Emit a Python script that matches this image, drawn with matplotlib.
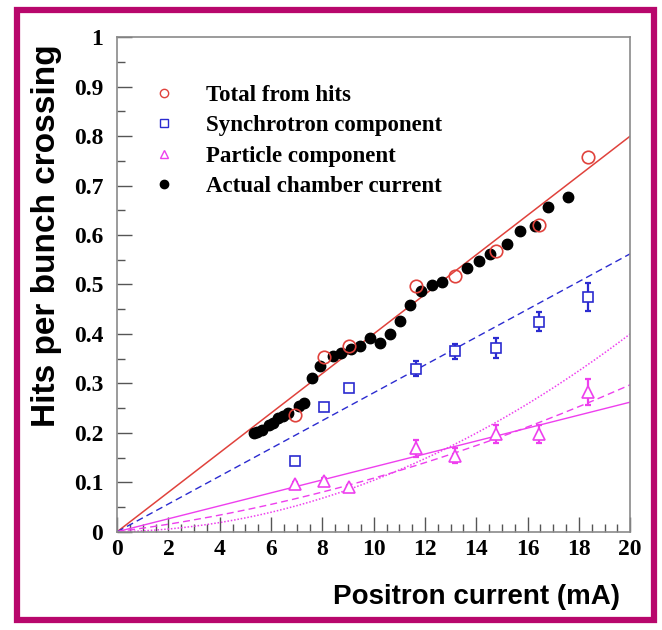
import numpy as np
import matplotlib
matplotlib.use("Agg")
import matplotlib.pyplot as plt
from matplotlib.lines import Line2D
from matplotlib.patches import Rectangle
from matplotlib.ticker import MultipleLocator

# measured points (positron current in mA)
x_meas = [6.92, 8.05, 9.02, 11.65, 13.15, 14.75, 16.43, 18.37]
total_hits = [0.237, 0.353, 0.376, 0.497, 0.518, 0.567, 0.621, 0.757]
synchrotron = [0.142, 0.252, 0.290, 0.330, 0.365, 0.371, 0.425, 0.474]
synchrotron_err = [0.006, 0.006, 0.006, 0.016, 0.015, 0.020, 0.020, 0.028]
particle = [0.097, 0.102, 0.090, 0.169, 0.154, 0.198, 0.198, 0.282]
particle_err = [0.004, 0.006, 0.004, 0.017, 0.015, 0.018, 0.018, 0.026]

# actual chamber current
x_chamber = [5.32, 5.47, 5.64, 5.90, 6.07, 6.26, 6.46, 6.64, 7.10, 7.29, 7.59, 7.91,
             8.43, 8.72, 9.11, 9.45, 9.84, 10.25, 10.64, 11.03, 11.42, 11.84, 12.27,
             12.66, 13.63, 14.09, 14.55, 15.19, 15.69, 16.30, 16.78, 17.56]
chamber = [0.200, 0.201, 0.205, 0.215, 0.220, 0.229, 0.235, 0.241, 0.255, 0.261, 0.310, 0.335,
           0.356, 0.362, 0.370, 0.376, 0.392, 0.382, 0.400, 0.427, 0.458, 0.487, 0.498,
           0.504, 0.533, 0.547, 0.562, 0.582, 0.609, 0.618, 0.656, 0.676]

# fit coefficients y = a1*x + a2*x^2
fit_total = (0.0400, 0.0)
fit_sync = (0.0281, 0.0)
fit_part_lin = (0.0131, 0.0)
fit_part_dash = (0.0068, 0.000403)
fit_part_dot = (0.0008, 0.00096)

red = "#e0423c"
blue = "#2b2bd0"
mag = "#ee3fee"
serif = "Liberation Serif"
sans = "Liberation Sans"

fig = plt.figure(figsize=(6.62, 6.30), dpi=100)
ax = fig.add_axes([0.177, 0.156, 0.775, 0.785])

xf = np.linspace(0, 20, 200)
def fitline(c):
    return c[0] * xf + c[1] * xf ** 2

ax.plot(xf, fitline(fit_total), color=red, lw=1.1)
ax.plot(xf, fitline(fit_sync), color=blue, lw=1.0, ls=(0, (5, 3)))
ax.plot(xf, fitline(fit_part_lin), color=mag, lw=1.0)
ax.plot(xf, fitline(fit_part_dash), color=mag, lw=1.0, ls=(0, (5, 3)))
ax.plot(xf, fitline(fit_part_dot), color=mag, lw=1.1, ls=(0, (1, 1.2)))

ax.errorbar(x_meas, synchrotron, yerr=synchrotron_err, fmt="none", ecolor=blue,
            elinewidth=1.6, capsize=2.5, capthick=1.6, zorder=3)
ax.errorbar(x_meas, particle, yerr=particle_err, fmt="none", ecolor=mag,
            elinewidth=1.6, capsize=2.5, capthick=1.6, zorder=3)

ax.plot(x_chamber, chamber, "o", color="black", ms=7.5, zorder=4)
ax.plot(x_meas, total_hits, "o", mfc="none", mec=red, mew=1.2, ms=9, zorder=5)
ax.plot(x_meas, synchrotron, "s", mfc="white", mec=blue, mew=1.2, ms=7.5, zorder=5)
ax.plot(x_meas, particle, "^", mfc="white", mec=mag, mew=1.2, ms=8, zorder=5)

ax.set_xlim(0, 20)
ax.set_ylim(0, 1)
ax.xaxis.set_major_locator(MultipleLocator(2))
ax.xaxis.set_minor_locator(MultipleLocator(0.5))
ax.yaxis.set_major_locator(MultipleLocator(0.1))
ax.yaxis.set_minor_locator(MultipleLocator(0.05))
ax.yaxis.set_major_formatter(plt.FuncFormatter(lambda v, p: "0" if v == 0 else ("1" if abs(v - 1) < 1e-9 else f"{v:.1f}")))

for s in ax.spines.values():
    s.set_color("#8a8a8a")
    s.set_linewidth(1.2)
ax.tick_params(which="both", direction="in", color="#555555", top=False, right=False)
ax.tick_params(which="major", length=11, width=1.0)
ax.tick_params(which="minor", length=5.5, width=1.0)
ax.tick_params(axis="y", which="major", pad=10)
ax.tick_params(axis="x", which="major", pad=5)
for lab in ax.get_xticklabels() + ax.get_yticklabels():
    lab.set_fontfamily(serif)
    lab.set_fontweight("bold")
    lab.set_fontsize(17)

ax.set_xlabel("Positron current (mA)", fontfamily=sans, fontweight="bold",
              fontsize=20, loc="right")
ax.xaxis.label.set_verticalalignment("center")
ax.xaxis.set_label_coords(0.98, -0.133)
ax.set_ylabel("Hits per bunch crossing", fontfamily=sans, fontweight="bold",
              fontsize=24, loc="top")
ax.yaxis.label.set_verticalalignment("center")
ax.yaxis.set_label_coords(-0.138, 0.985)

handles = [
    Line2D([], [], ls="none", marker="o", mfc="none", mec=red, ms=6, mew=1.0),
    Line2D([], [], ls="none", marker="s", mfc="none", mec=blue, ms=5.5, mew=1.0),
    Line2D([], [], ls="none", marker="^", mfc="none", mec=mag, ms=6, mew=1.0),
    Line2D([], [], ls="none", marker="o", color="black", ms=6),
]
labels = ["Total from hits", "Synchrotron component", "Particle component",
          "Actual chamber current"]
ax.legend(handles, labels, loc="upper left", bbox_to_anchor=(0.025, 0.945),
          frameon=False, handlelength=1.2, handletextpad=1.23, labelspacing=0.41,
          prop={"family": serif, "weight": "bold", "size": 16.5})

fig.patches.append(Rectangle((0.026, 0.016), 0.962, 0.968, transform=fig.transFigure,
                             fill=False, edgecolor="#b8076c", linewidth=4.5))

fig.savefig("out.png", dpi=100)
